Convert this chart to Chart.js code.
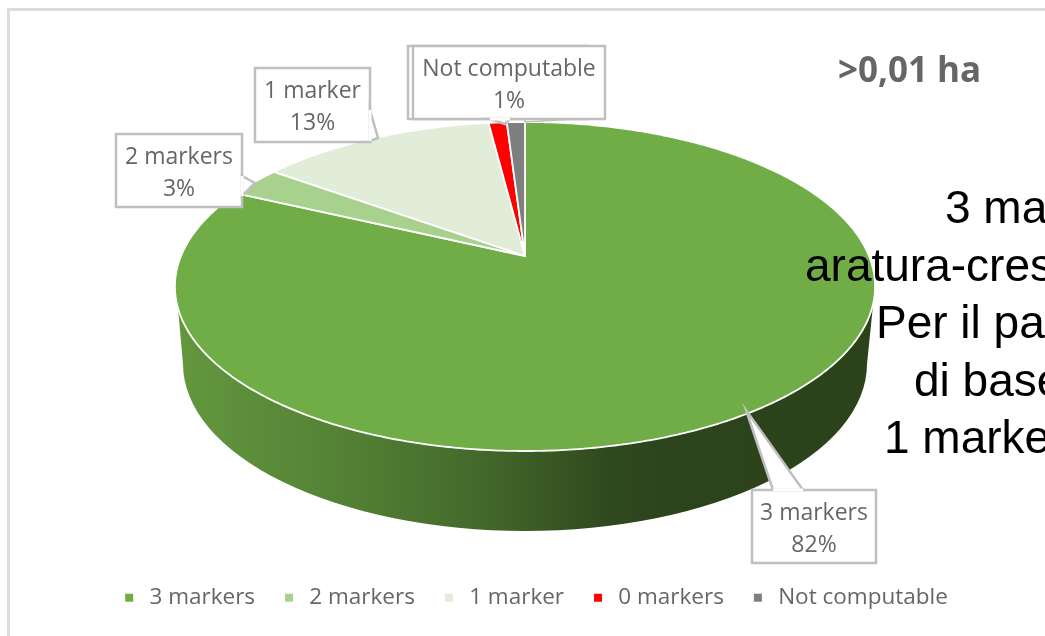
<!DOCTYPE html>
<html>
<head>
<meta charset="utf-8">
<title>Markers</title>
<style>
    html, body { margin: 0; padding: 0; background: #fff; overflow: hidden; }
    #wrap { position: relative; width: 1045px; height: 636px; overflow: hidden; }
    #frame { position: absolute; left: 7px; top: 8px; width: 1100px; height: 700px; border: 3px solid #dcdcdc; }
    #chart { position: absolute; left: 0; top: 0; }
</style>
</head>
<body>
<div id="wrap">
    <div id="frame"></div>
    <canvas id="chart" width="1045" height="636"></canvas>
</div>
<script src="https://cdn.jsdelivr.net/npm/chart.js@4"></script>
<script>
var categories = ['3 markers', '2 markers', '1 marker', '0 markers', 'Not computable'];
var shares = [82, 3, 13, 1, 1];
var sliceColors = ['#70ad47', '#a9d18e', '#e1edd9', '#ff0000', '#7f7f7f'];
var titleText = '>0,01 ha';
var noteLines = ['3 mar', 'aratura-cres', 'Per il pa', 'di base', '1 marker'];
var noteLefts = [945, 805, 876, 914, 884];
var noteBaselines = [223, 281, 338, 396, 453];

// Callout boxes: slice index, box rectangle and tail polygon
var callouts = [
    { slice: 0, box: [752, 490, 124, 73], tail: [[773, 490], [746, 410], [803, 490]] },
    { slice: 1, box: [116, 134, 126, 73], tail: [[242, 176], [255, 183], [242, 196]] },
    { slice: 2, box: [255, 68, 115, 74], tail: [[370, 110], [378, 138], [370, 141]] },
    { slice: 4, box: [413, 46, 192, 73], tail: [[490, 119], [505, 124], [510, 119]] }
];

// Tilted disc: a circle seen in perspective, so the apex sits above the ellipse centre
var disc = { x: 525, apexY: 256, a: 344, b: 111.4, persp: -0.1854 };
var base = { x: 525, y: 364, rx: 342, ry: 167 };
var wallStops = [[0, 0.88], [0.22, 0.76], [0.42, 0.62], [0.505, 0.54], [0.62, 0.42], [0.72, 0.39], [1, 0.38]];

function project(angle) {
    var t = angle + Math.PI / 2;
    var u = Math.sin(t), v = -Math.cos(t);
    var d = 1 + disc.persp * v;
    return { x: disc.x + disc.a * u / d, y: (disc.apexY + disc.b * v) / d };
}

function shade(hex, k) {
    var n = parseInt(hex.slice(1), 16);
    var r = Math.round((n >> 16) * k), g = Math.round(((n >> 8) & 255) * k), b = Math.round((n & 255) * k);
    return 'rgb(' + r + ',' + g + ',' + b + ')';
}

function drawWall(ctx, color) {
    var right = base.x + base.rx;
    var grad = ctx.createLinearGradient(176, 0, 875, 0);
    wallStops.forEach(function (s) { grad.addColorStop(s[0], shade(color, s[1])); });
    ctx.beginPath();
    ctx.moveTo(875, 286);
    ctx.lineTo(right, base.y);
    ctx.ellipse(base.x, base.y, base.rx, base.ry, 0, 0, Math.PI);
    ctx.lineTo(176, 286);
    ctx.closePath();
    ctx.fillStyle = grad;
    ctx.fill();
}

function drawSlice(ctx, arc) {
    var steps = Math.max(2, Math.ceil((arc.endAngle - arc.startAngle) / 0.01));
    ctx.beginPath();
    ctx.moveTo(disc.x, disc.apexY);
    for (var i = 0; i <= steps; i++) {
        var p = project(arc.startAngle + (arc.endAngle - arc.startAngle) * i / steps);
        ctx.lineTo(p.x, p.y);
    }
    ctx.closePath();
    ctx.fillStyle = arc.options.backgroundColor;
    ctx.fill();
    ctx.strokeStyle = '#fff';
    ctx.lineWidth = 1.8;
    ctx.stroke();
}

function drawCallout(ctx, c) {
    var b = c.box;
    ctx.fillStyle = '#fff';
    ctx.strokeStyle = '#bfbfbf';
    ctx.lineWidth = 2.5;
    ctx.fillRect(b[0], b[1], b[2], b[3]);
    ctx.strokeRect(b[0], b[1], b[2], b[3]);
    ctx.beginPath();
    ctx.moveTo(c.tail[0][0], c.tail[0][1]);
    ctx.lineTo(c.tail[1][0], c.tail[1][1]);
    ctx.lineTo(c.tail[2][0], c.tail[2][1]);
    ctx.closePath();
    ctx.fill();
    ctx.stroke();

    // open the box edge where the tail joins it
    ctx.beginPath();
    ctx.moveTo(c.tail[0][0], c.tail[0][1]);
    ctx.lineTo(c.tail[2][0], c.tail[2][1]);
    ctx.save();
    ctx.strokeStyle = '#fff';
    ctx.lineWidth = 3;
    ctx.stroke();
    ctx.restore();

    ctx.fillStyle = '#666';
    ctx.font = '23px "Open Sans"';
    ctx.textAlign = 'center';
    ctx.textBaseline = 'middle';
    var cx = b[0] + b[2] / 2;
    ctx.fillText(categories[c.slice], cx, b[1] + 23);
    ctx.fillText(shares[c.slice] + '%', cx, b[1] + 55);
}

var tiltedPie = {
    id: 'tiltedPie',
    beforeDatasetsDraw: function (chart) {
        var ctx = chart.ctx;
        var arcs = chart.getDatasetMeta(0).data;
        ctx.save();
        drawWall(ctx, arcs[0].options.backgroundColor);
        arcs.forEach(function (arc) { drawSlice(ctx, arc); });
        ctx.restore();
        return false;
    },
    afterDraw: function (chart) {
        var ctx = chart.ctx;
        ctx.save();

        // hidden box behind the Not computable one, only its left edge shows
        ctx.fillStyle = '#fff';
        ctx.strokeStyle = '#bfbfbf';
        ctx.lineWidth = 2.5;
        ctx.fillRect(408, 46, 180, 73);
        ctx.strokeRect(408, 46, 180, 73);

        // tail of the grey slice lying along the box bottom
        ctx.beginPath();
        ctx.moveTo(525, 119);
        ctx.lineTo(525, 122);
        ctx.lineTo(575, 119);
        ctx.closePath();
        ctx.fill();
        ctx.lineWidth = 1.5;
        ctx.stroke();

        callouts.forEach(function (c) { drawCallout(ctx, c); });

        ctx.textAlign = 'left';
        ctx.textBaseline = 'alphabetic';
        ctx.fillStyle = '#666';
        ctx.font = 'bold 35px "Open Sans"';
        ctx.fillText(titleText, 838, 82);

        ctx.fillStyle = '#000';
        ctx.font = '46px "Liberation Sans"';
        noteLines.forEach(function (line, i) {
            ctx.fillText(line, noteLefts[i], noteBaselines[i]);
        });
        ctx.restore();
    }
};

new Chart(document.getElementById('chart').getContext('2d'), {
    type: 'pie',
    data: {
        labels: categories,
        datasets: [{
            data: shares,
            backgroundColor: sliceColors,
            borderWidth: 0
        }]
    },
    options: {
        responsive: false,
        animation: false,
        layout: { padding: { left: 23, bottom: 17 } },
        plugins: {
            tooltip: { enabled: false },
            legend: {
                position: 'bottom',
                labels: {
                    usePointStyle: true,
                    pointStyle: 'rect',
                    boxWidth: 18,
                    boxHeight: 8,
                    padding: 25,
                    color: '#666',
                    font: { family: '"Open Sans"', size: 22.5 }
                }
            }
        }
    },
    plugins: [tiltedPie]
});
</script>
</body>
</html>
